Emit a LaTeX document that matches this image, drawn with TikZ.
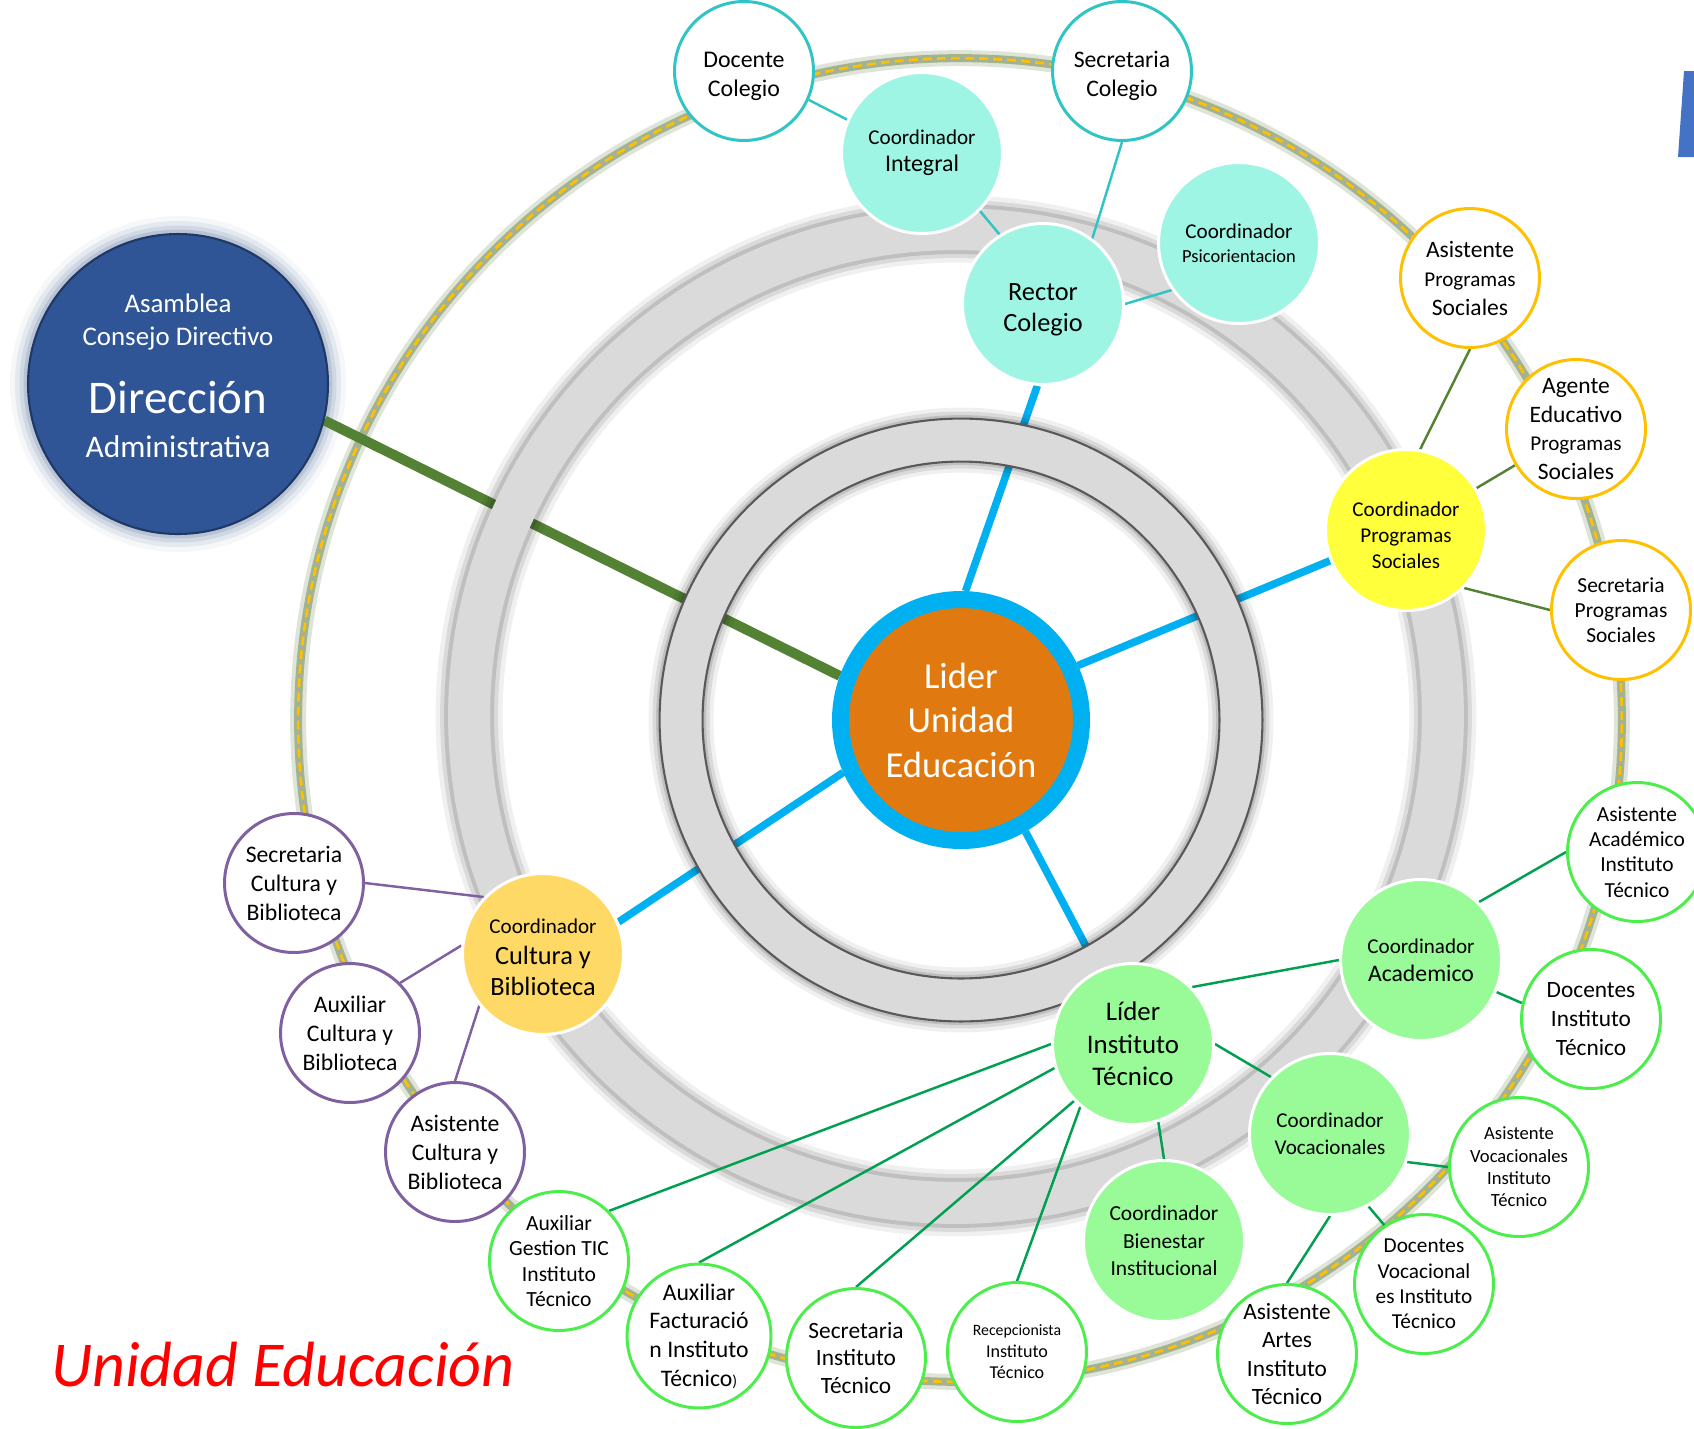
\documentclass[tikz,border=0pt]{standalone}
\usepackage{fontspec}
\setmainfont{Carlito}
\definecolor{aquaC}{HTML}{9EF5E4}
\definecolor{tealC}{HTML}{30C4C4}
\definecolor{orangeC}{HTML}{E07A10}
\definecolor{cyanC}{HTML}{00B0F0}
\definecolor{dirC}{HTML}{2F5597}
\definecolor{dirEdge}{HTML}{1F3864}
\definecolor{glowC}{HTML}{7F93B5}
\definecolor{yellowC}{HTML}{FFFF3B}
\definecolor{goldC}{HTML}{FFC000}
\definecolor{ambC}{HTML}{FFD966}
\definecolor{purpleC}{HTML}{7F60A0}
\definecolor{mintC}{HTML}{98FB98}
\definecolor{limeC}{HTML}{4CEE4C}
\definecolor{greenC}{HTML}{00A050}
\definecolor{oliveC}{HTML}{548235}
\definecolor{ringG}{HTML}{DADADA}
\definecolor{darkG}{HTML}{595959}
\definecolor{bandC}{HTML}{A3B291}
\definecolor{blueC}{HTML}{4472C4}
\newcommand{\fsz}[2]{\fontsize{#1}{#2}\selectfont}
\pgfdeclarelayer{spokes}
\pgfdeclarelayer{rings}
\pgfdeclarelayer{links}
\pgfsetlayers{spokes,rings,links,main}
\begin{document}
\begin{tikzpicture}[x=0.02cm,y=-0.02cm,
  person/.style={circle,fill=white,line width=1.7pt,minimum size=2.78cm,inner sep=0pt,align=center},
  head/.style={circle,draw=white,line width=1.7pt,minimum size=3.22cm,inner sep=0pt,align=center},
  spoke/.style={cyanC,line width=4.3pt},
  link/.style={line width=1.4pt}]
\useasboundingbox (0,0) rectangle (1694,1428);

\node[circle,fill=dirC,draw=dirEdge,line width=1.2pt,minimum size=6cm,inner sep=0pt,align=center,text=white,font=\fsz{15.3}{18.8}] (dir) at (178,384) {Asamblea\\Consejo Directivo\\[17pt]{\fsz{26.7}{30}Dirección}\\[6pt]{\fsz{17.9}{21}Administrativa\rule[-10pt]{0pt}{0pt}}};
\node[circle,fill=orangeC,draw=cyanC,line width=9.7pt,minimum size=4.82cm,inner sep=0pt,align=center,text=white,font=\fsz{20.8}{25.3}] (lider) at (961,720) {Lider\\Unidad\\Educación};

\node[head,fill=aquaC,font=\fsz{15}{17.6}] (rector) at (1043,304) {\rule{0pt}{16.5pt}Rector\\Colegio};
\node[head,fill=aquaC,font=\fsz{13.6}{15.4}] (integ) at (922,153) {{\fsz{12}{14}Coordinador}\\Integral};
\node[head,fill=aquaC,font=\fsz{12}{13.7}] (psico) at (1239,243) {Coordinador\\{\fsz{10.5}{12}Psicorientacion}};
\node[person,draw=tealC,font=\fsz{13.6}{16.5}] (docente) at (744,71) {\rule{0pt}{15pt}Docente\\Colegio};
\node[person,draw=tealC,font=\fsz{13.5}{16.5}] (secrcol) at (1122,71) {\rule{0pt}{15pt}Secretaria\\Colegio};

\node[head,fill=yellowC,font=\fsz{12}{14.8}] (progsoc) at (1406,530) {\rule{0pt}{14pt}Coordinador\\Programas\\Sociales};
\node[person,draw=goldC,font=\fsz{13.4}{16.5}] (asisps) at (1470,278) {Asistente\\{\fsz{12}{14}Programas}\\Sociales};
\node[person,draw=goldC,font=\fsz{13.4}{16.2}] (agente) at (1576,429) {Agente\\Educativo\\{\fsz{12}{14}Programas}\\Sociales};
\node[person,draw=goldC,font=\fsz{12.2}{14.2}] (secrps) at (1621,610) {Secretaria\\Programas\\Sociales};

\node[head,fill=ambC,font=\fsz{15}{17.6}] (cultura) at (543,954) {{\fsz{12}{14}\rule{0pt}{12pt}Coordinador}\\Cultura y\\Biblioteca};
\node[person,draw=purpleC,font=\fsz{13.5}{16.5}] (secrcb) at (294,883) {Secretaria\\Cultura y\\Biblioteca};
\node[person,draw=purpleC,font=\fsz{13.5}{16.5}] (auxcb) at (350,1033) {Auxiliar\\Cultura y\\Biblioteca};
\node[person,draw=purpleC,font=\fsz{13.5}{16.5}] (asiscb) at (455,1152) {Asistente\\Cultura y\\Biblioteca};

\node[head,fill=mintC,font=\fsz{15.3}{18.5}] (liderit) at (1133,1044) {Líder\\Instituto\\Técnico};
\node[head,fill=mintC,font=\fsz{13.5}{15.9}] (acad) at (1421,960) {{\fsz{12}{14}Coordinador}\\Academico};
\node[head,fill=mintC,font=\fsz{12}{15.3}] (vocac) at (1330,1134) {Coordinador\\Vocacionales};
\node[head,fill=mintC,font=\fsz{12.2}{15.6}] (bienes) at (1164,1241) {Coordinador\\Bienestar\\Institucional};
\node[person,draw=limeC,font=\fsz{12.2}{14.4}] (asisac) at (1637,852) {Asistente\\Académico\\Instituto\\Técnico};
\node[person,draw=limeC,font=\fsz{13.3}{16.5}] (docit) at (1591,1019) {Docentes\\Instituto\\Técnico};
\node[person,draw=limeC,font=\fsz{10.6}{12.7}] (asisvoc) at (1519,1167) {Asistente\\Vocacionales\\Instituto\\Técnico};
\node[person,draw=limeC,font=\fsz{12.1}{14.4}] (docvoc) at (1424,1284) {Docentes\\Vocacional\\es Instituto\\Técnico};
\node[person,draw=limeC,font=\fsz{13.3}{16.3}] (artes) at (1287,1354) {Asistente\\Artes\\Instituto\\Técnico};
\node[person,draw=limeC,font=\fsz{10.3}{12.2}] (recep) at (1017,1352) {{\fsz{9}{10}Recepcionista}\\Instituto\\Técnico};
\node[person,draw=limeC,font=\fsz{13.3}{15.9}] (secrit) at (856,1358) {Secretaria\\Instituto\\Técnico};
\node[person,draw=limeC,font=\fsz{13.5}{16.3}] (factur) at (699,1336) {Auxiliar\\Facturació\\n Instituto\\Técnico{\fsz{9}{10})}};
\node[person,draw=limeC,font=\fsz{12.3}{14.4}] (tic) at (559,1261) {Auxiliar\\Gestion TIC\\Instituto\\Técnico};

\node[anchor=base west,text=red,font=\fsz{36.4}{40}\itshape] (titulo) at (45,1386) {Unidad Educación};
\fill[blueC] (1684,71) -- (1694,71) -- (1694,157) -- (1678,157) -- cycle;

\begin{pgfonlayer}{spokes}
  \fill[glowC,opacity=0.08] (dir) circle (3.36cm);
  \fill[glowC,opacity=0.14] (dir) circle (3.26cm);
  \fill[glowC,opacity=0.2] (dir) circle (3.17cm);
  \fill[glowC,opacity=0.3] (dir) circle (3.09cm);
  \draw[bandC,opacity=0.35,line width=0.32cm] (960,720) circle (13.24cm);
  \draw[bandC,line width=0.16cm] (960,720) circle (13.24cm);
  \draw[goldC,line width=1.5pt,dash pattern=on 5pt off 3pt] (960,720) circle (13.24cm);
  \draw[oliveC,line width=5.7pt] (dir.346) -- (lider.160);
  \draw[spoke] (lider.88) -- (rector.266);
  \draw[spoke] (lider.25) -- (progsoc.202);
  \draw[spoke] (lider.204) -- (cultura.23);
  \draw[spoke] (lider.300) -- (liderit.115);
\end{pgfonlayer}

\begin{pgfonlayer}{rings}
  \draw[black,opacity=0.06,line width=1.34cm] (956,716) circle (9.74cm);
  \draw[black,opacity=0.09,line width=1.16cm] (956,716) circle (9.74cm);
  \draw[black,opacity=0.12,line width=1cm] (956,716) circle (9.74cm);
  \draw[ringG,line width=0.84cm] (956,716) circle (9.74cm);
  \draw[black,opacity=0.06,line width=1.3cm] (961,720) circle (5.6cm);
  \draw[black,opacity=0.09,line width=1.14cm] (961,720) circle (5.6cm);
  \draw[black,opacity=0.12,line width=1cm] (961,720) circle (5.6cm);
  \draw[ringG,line width=0.86cm] (961,720) circle (5.6cm);
  \draw[darkG,line width=1.2pt] (961,720) circle (5.17cm) (961,720) circle (6.03cm);
\end{pgfonlayer}

\begin{pgfonlayer}{links}
  \draw[link,tealC] (docente.336) -- (integ.156);
  \draw[link,tealC] (integ.315) -- (rector.122);
  \draw[link,tealC] (secrcol.270) -- (rector.53);
  \draw[link,tealC] (rector.0) -- (psico.215);
  \draw[link,oliveC] (progsoc.80) -- (asisps.south);
  \draw[link,oliveC] (progsoc) -- (agente);
  \draw[link,oliveC] (progsoc.-45) -- (secrps.180);
  \draw[link,purpleC] (secrcb.0) -- (cultura.136);
  \draw[link,purpleC] (auxcb.45) -- (cultura.174);
  \draw[link,purpleC] (asiscb.90) -- (cultura.219);
  \draw[link,greenC] (liderit.44) -- (acad.180);
  \draw[link,greenC] (liderit.0) -- (vocac.136);
  \draw[link,greenC] (liderit.288) -- (bienes.90);
  \draw[link,greenC] (liderit.180) -- (tic.45);
  \draw[link,greenC] (liderit.197) -- (factur.90);
  \draw[link,greenC] (liderit.224) -- (secrit.90);
  \draw[link,greenC] (liderit.230) -- (recep.90);
  \draw[link,greenC] (acad.45) -- (asisac.180);
  \draw[link,greenC] (acad.337) -- (docit.167);
  \draw[link,greenC] (vocac.340) -- (asisvoc.180);
  \draw[link,greenC] (vocac.298) -- (docvoc.124);
  \draw[link,greenC] (vocac.270) -- (artes.90);
\end{pgfonlayer}
\end{tikzpicture}
\end{document}
